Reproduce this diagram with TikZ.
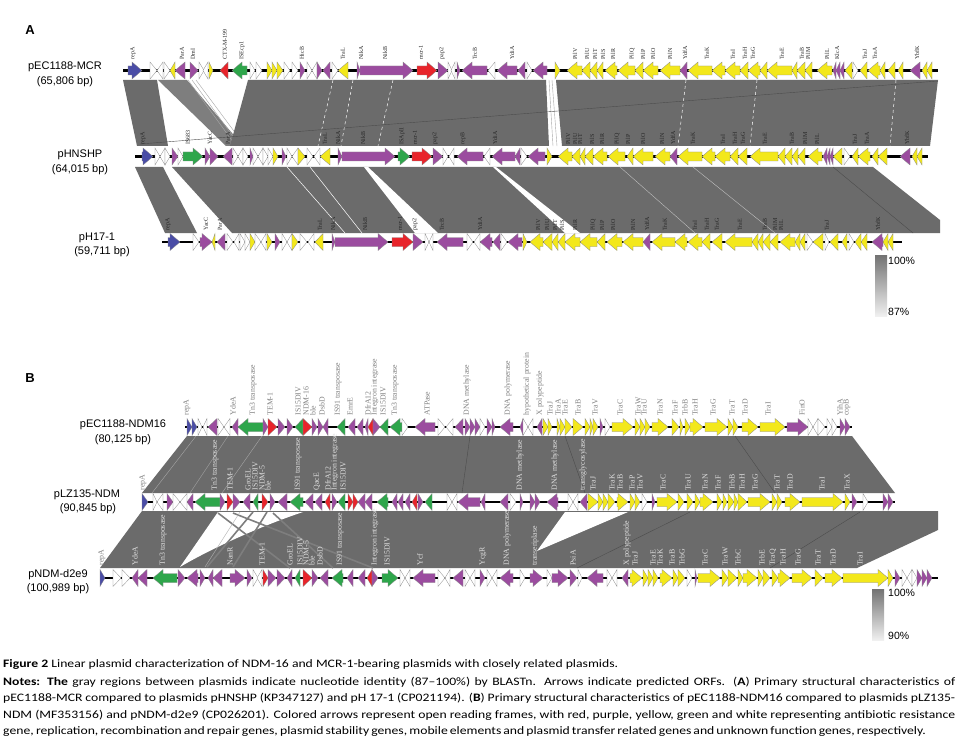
\documentclass[tikz,border=0pt]{standalone}
\usepackage{fontspec}
\setmainfont{Liberation Serif}
\newfontfamily\arialf{Liberation Sans}
\newfontfamily\capf[FakeStretch=1.2]{Carlito}
\definecolor{cP}{HTML}{9B4C9F}
\definecolor{cY}{HTML}{F3E81B}
\definecolor{cR}{HTML}{E8242B}
\definecolor{cG}{HTML}{2EA64B}
\definecolor{cB}{HTML}{4A4DA6}
\definecolor{cW}{HTML}{FFFFFF}
\definecolor{gr}{HTML}{6B6B6B}
\definecolor{grl}{HTML}{7E7E7E}
\newcommand\ga[4]{%
  \pgfmathsetmacro\hx{#2>#1 ? max(#1,#2-10) : min(#1,#2+10)}%
  \filldraw[fill=#4,draw=black!45,line width=0.3pt] (#1,#3-4.5) -- (\hx,#3-4.5) -- (\hx,#3-8.5) -- (#2,#3) -- (\hx,#3+8.5) -- (\hx,#3+4.5) -- (#1,#3+4.5) -- cycle;}
\newcommand\generow[4]{%
  \draw[line width=2.4pt] (#2,#1) -- (#3,#1);
  \foreach \a/\b/\c in {#4}{\ga{\a}{\b}{#1}{\c}}}
\tikzset{
  gband/.style={fill=gr,draw=none},
  wl/.style={draw=white,line width=0.5pt},
  dl/.style={draw=black!70,line width=0.4pt},
  ll/.style={draw=black!35,line width=0.4pt},
  la/.style={rotate=90,anchor=west,inner sep=0.3pt,font=\fontsize{6}{6.5}\selectfont,text=black!85},
  lb/.style={rotate=90,anchor=west,inner sep=0.3pt,font=\fontsize{7.8}{8}\selectfont,text=black!50},
  lw/.style={rotate=90,anchor=west,inner sep=0.3pt,font=\fontsize{7.8}{8}\selectfont,text=black!12},
  ttl/.style={font=\arialf\fontsize{11}{12}\selectfont,inner sep=0pt},
  pan/.style={font=\arialf\bfseries\fontsize{13}{14}\selectfont,inner sep=0pt},
  capl/.style={font=\capf\fontsize{11.4}{13}\selectfont,inner sep=0pt,anchor=base west},
  sc/.style={font=\arialf\fontsize{10.5}{12}\selectfont,inner sep=0pt,anchor=west}
}
\begin{document}
\begin{tikzpicture}[x=1pt,y=-1pt]
\useasboundingbox (0,0) rectangle (964,749);
\fill[white] (0,0) rectangle (964,749);
% ---------------- Panel A ----------------
\node[pan] (pA) at (30,30) {A};
% gray regions A1 -> A2
\fill[gband] (123,80) -- (157,80) -- (168,146) -- (137,146) -- cycle;
\fill[grl] (158,80) -- (187,80) -- (243,146) -- (226,146) -- cycle;
\draw[ll] (188,80) -- (236,146) (192,80) -- (240,146) (196,80) -- (245,146);
\fill[gband] (248,80) -- (546,80) -- (549,146) -- (230,146) -- cycle;
\fill[gband] (556,80) -- (938,80) -- (930,146) -- (562,146) -- cycle;
\draw[ll] (549,80) -- (553,146) (552,80) -- (557,146);
\draw[wl,dashed] (333,80) -- (318,146) (353,80) -- (341,146) (393,80) -- (378,146)
  (686,80) -- (678,146) (757,80) -- (750,146) (896,80) -- (890,146);
\draw[dl] (140,144) -- (938,81);
% gray regions A2 -> A3
\fill[gband] (135,167) -- (163,167) -- (197,233) -- (165,233) -- cycle;
\fill[gband] (172,167) -- (873,167) -- (940,220) -- (940,233) -- (232,233) -- cycle;
\fill[white] (364,167) -- (368,167) -- (438,233) -- (415,233) -- cycle;
\fill[white] (493,167) -- (496,167) -- (580,233) -- (565,233) -- cycle;
\draw[wl] (287,167) -- (345,233) (310,167) -- (362,233);
\draw[ll,draw=black!25] (620,167) -- (695,233) (693,167) -- (775,233);
\draw[dl] (833,167) -- (913,233);
% rows A
\generow{70.5}{123}{938}{128/142/cB, 150/157/cW, 163/157/cW, 164/170/cW, 175/170/cY, 185/175/cP, 190/198/cP, 199/204/cW, 208/203/cW, 209/213/cY, 228/220/cR, 247/232/cG, 250/255/cW, 256/262/cW, 267/272/cY, 272/277/cY, 277/283/cY, 284/290/cW, 292/298/cW, 300/305/cP, 307/312/cW, 317/312/cW, 317/322/cP, 330/323/cP, 332/338/cW, 348/338/cY, 357/360/cP, 360/413/cP, 417/437/cR, 438/448/cP, 448/452/cW, 455/451/cW, 457/460/cP, 487/462/cP, 495/488/cW, 517/497/cP, 525/518/cP, 527/532/cW, 547/533/cP, 555/560/cY, 582/567/cY, 590/582/cY, 597/590/cY, 603/597/cY, 617/605/cY, 635/618/cY, 643/635/cY, 658/643/cY, 680/660/cY, 687/680/cP, 712/688/cY, 725/712/cY, 740/725/cY, 748/740/cY, 760/748/cY, 767/760/cY, 792/767/cY, 797/792/cY, 805/797/cY, 812/805/cY, 832/817/cY, 836/833/cP, 840/836/cP, 844/840/cP, 852/845/cY, 853/858/cW, 867/860/cY, 880/868/cY, 885/880/cY, 895/888/cY, 903/898/cY, 920/910/cP, 927/922/cY, 932/927/cY}
\generow{156.5}{135}{928}{142/153/cB, 155/160/cW, 165/160/cW, 165/170/cW, 172/178/cP, 178/183/cW, 183/203/cG, 205/210/cP, 210/218/cP, 232/223/cP, 233/238/cW, 243/238/cW, 243/248/cW, 250/253/cP, 253/258/cW, 263/258/cW, 263/268/cW, 268/273/cW, 273/278/cY, 282/286/cP, 287/292/cW, 298/292/cW, 298/305/cY, 307/313/cW, 320/314/cW, 330/320/cY, 338/342/cP, 342/395/cP, 398/410/cG, 412/432/cR, 433/443/cP, 443/448/cW, 454/449/cW, 483/457/cP, 490/484/cW, 515/492/cP, 520/515/cP, 521/527/cW, 545/528/cP, 547/552/cY, 572/558/cY, 580/572/cY, 585/580/cY, 593/585/cY, 607/593/cY, 625/608/cY, 633/627/cY, 653/633/cY, 670/655/cY, 677/670/cP, 702/678/cY, 715/702/cY, 730/715/cY, 738/730/cY, 747/738/cY, 778/750/cY, 785/778/cY, 792/785/cY, 798/792/cY, 805/798/cY, 822/808/cY, 827/823/cP, 830/827/cP, 833/830/cP, 842/833/cY, 844/850/cW, 858/852/cY, 870/858/cY, 878/872/cY, 887/878/cY, 910/900/cP, 917/912/cY, 922/917/cY}
\generow{242}{162}{902}{168/180/cB, 193/199/cW, 200/212/cP, 215/212/cY, 225/217/cP, 227/233/cW, 239/234/cW, 240/245/cW, 245/250/cW, 250/255/cY, 255/261/cW, 266/261/cW, 267/272/cY, 275/280/cP, 282/287/cW, 292/287/cW, 292/298/cY, 300/307/cW, 314/308/cW, 323/315/cY, 332/335/cP, 335/388/cP, 392/413/cR, 413/423/cP, 425/429/cW, 433/429/cW, 463/437/cP, 467/473/cW, 480/474/cW, 492/480/cP, 500/493/cP, 501/507/cW, 522/508/cP, 523/527/cY, 543/530/cY, 552/543/cY, 558/552/cY, 565/558/cY, 580/565/cY, 597/580/cY, 605/597/cY, 622/607/cY, 643/623/cY, 650/643/cP, 675/652/cY, 687/675/cY, 702/688/cY, 710/702/cY, 722/712/cY, 752/725/cY, 758/752/cY, 763/758/cY, 770/763/cY, 778/770/cY, 795/780/cY, 800/795/cY, 805/800/cY, 807/813/cW, 823/813/cY, 825/829/cW, 838/830/cY, 847/842/cY, 849/854/cW, 861/855/cY, 867/861/cY, 883/872/cP, 888/883/cY, 893/888/cY}
% labels A
\foreach \x/\t in {133/repA, 182/ParA, 193/DmI, 225/CTX-M-199, 242/ISEcp1, 302/HicB, 343/TraL, 361/NikA, 385/NikB, 421/mcr-1, 442/pap2, 475/TrcB, 512/YdiA, 575/PilV, 587/PilU, 595/PilT, 603/PilS, 613/PilR, 632/PilQ, 643/PilP, 653/PilO, 670/PilN, 685/YdfA, 707/TraK, 733/TraI, 745/TraH, 753/TraG, 782/TraE, 802/TraB, 808/PilM, 827/PilL, 837/KlcA, 865/TraJ, 875/TraA, 917/YbfK}
  {\node[la] (A1l\x) at (\x,60) {\t};}
\foreach \x/\t in {143/repA, 188/IS683, 210/YacC, 228/ParA, 325/TraL, 338/NikA, 363/NikB, 402/ISApl1, 415/mcr-1, 435/pap2, 463/repB, 495/YdiA, 568/PilV, 575/PilU, 580/PilT, 592/PilS, 602/PilR, 617/PilQ, 628/PilP, 643/PilO, 662/PilN, 673/YdfA, 693/TraK, 723/TraI, 735/TraH, 743/TraG, 765/TraE, 792/TraB, 805/PilM, 817/PilL, 855/TraJ, 867/TraA, 907/YbfK}
  {\node[la] (A2l\x) at (\x,145) {\t};}
\foreach \x/\t in {168/repA, 206/YacC, 220/ParA, 320/TraL, 333/NikA, 365/NikB, 400/mcr-1, 415/pap2, 442/TrcB, 480/YdiA, 538/PilV, 547/PilU, 555/PilT, 562/PilS, 575/PilR, 593/PilQ, 602/PilP, 613/PilO, 633/PilN, 647/YdfA, 665/TraK, 695/TraI, 707/TraH, 717/TraG, 740/TraE, 765/TraB, 775/PilM, 781/PilL, 827/TraJ, 878/YbfK}
  {\node[la] (A3l\x) at (\x,231) {\t};}
% titles A
\node[ttl] (tA1) at (65,67) {pEC1188-MCR};
\node[ttl] (tA1b) at (65,82) {(65,806 bp)};
\node[ttl] (tA2) at (80,155) {pHNSHP};
\node[ttl] (tA2b) at (80,170) {(64,015 bp)};
\node[ttl] (tA3) at (97,238) {pH17-1};
\node[ttl] (tA3b) at (102,252) {(59,711 bp)};
% scale A
\shade[top color=black!55,bottom color=black!6] (875,255) rectangle (887,316);
\node[sc] (sA1) at (888,261) {100\%};
\node[sc] (sA2) at (888,312) {87\%};
% ---------------- Panel B ----------------
\node[pan] (pB) at (30,378) {B};
% gray B1 -> B2
\fill[gband] (187,436) -- (852,436) -- (895,493) -- (142,493) -- cycle;
\draw[ll] (196,436) -- (152,493) (228,436) -- (190,493) (262,436) -- (222,493);
\draw[dl] (565,436) -- (585,493) (735,436) -- (775,493) (470,436) -- (462,493);
% gray B2 -> B3
\fill[gband] (142,511) -- (938,511) -- (938,530) -- (857,568) -- (100,568) -- cycle;
\fill[white] (218,512) -- (303,512) .. controls (255,528) and (205,552) .. (180,567) -- cycle;
\fill[white] (565,512) -- (628,512) -- (537,551) -- cycle;
\draw[draw=grl,line width=1.6pt] (218,513) -- (290,568) (233,513) -- (373,568) (253,512) -- (207,567) (267,512) -- (233,567) (273,513) -- (333,568);
\draw[ll,draw=black!30] (240,512) -- (205,567);
\draw[dl] (690,512) -- (577,568) (860,512) -- (770,568);
% rows B
\generow{427}{185}{852}{187/192/cB, 192/197/cB, 198/202/cW, 207/203/cW, 217/208/cP, 218/224/cW, 230/224/cW, 238/232/cP, 263/238/cG, 263/268/cP, 268/277/cR, 278/285/cP, 287/293/cP, 303/295/cG, 303/312/cR, 312/317/cP, 318/323/cP, 328/323/cP, 345/337/cG, 355/348/cP, 363/357/cP, 368/365/cP, 373/368/cR, 373/380/cP, 388/380/cG, 402/390/cG, 402/408/cW, 435/415/cP, 438/445/cW, 453/446/cW, 463/455/cP, 465/470/cP, 470/475/cP, 475/480/cP, 480/485/cW, 487/492/cP, 492/495/cP, 513/500/cP, 523/520/cP, 523/528/cW, 533/528/cW, 542/537/cP, 543/548/cY, 548/552/cY, 557/560/cY, 560/565/cY, 565/572/cY, 573/583/cY, 585/590/cY, 590/593/cY, 593/598/cY, 600/603/cP, 605/610/cW, 612/633/cY, 635/640/cY, 640/645/cY, 645/650/cY, 652/668/cY, 672/679/cY, 680/683/cY, 685/690/cY, 690/703/cY, 705/727/cY, 728/733/cY, 733/738/cY, 742/758/cY, 760/785/cY, 787/808/cP, 808/813/cW, 818/813/cW, 818/825/cW, 827/832/cW, 832/837/cW, 840/845/cP, 845/850/cP}
\generow{502}{142}{895}{142/148/cB, 153/157/cW, 163/157/cW, 167/173/cP, 173/180/cW, 187/180/cW, 193/187/cP, 220/195/cG, 220/225/cP, 227/233/cR, 233/240/cP, 250/243/cP, 258/253/cG, 262/268/cR, 270/275/cP, 287/278/cP, 303/290/cG, 313/305/cP, 322/315/cP, 330/325/cR, 332/337/cP, 345/338/cG, 348/353/cR, 353/358/cR, 365/358/cP, 372/365/cP, 388/377/cG, 397/392/cP, 403/398/cP, 410/405/cP, 417/412/cR, 418/423/cP, 432/425/cG, 447/452/cW, 457/452/cW, 480/458/cP, 485/481/cP, 508/500/cP, 510/516/cW, 520/523/cP, 530/535/cP, 535/540/cP, 558/547/cP, 568/573/cW, 578/573/cW, 587/580/cP, 588/598/cY, 598/603/cY, 603/608/cY, 608/615/cY, 617/628/cY, 630/635/cY, 635/640/cY, 642/647/cW, 652/655/cP, 657/677/cY, 678/684/cY, 687/693/cY, 695/700/cY, 700/713/cY, 717/722/cY, 723/727/cY, 728/734/cY, 734/738/cY, 738/747/cY, 748/770/cY, 772/777/cY, 777/782/cY, 785/800/cY, 802/843/cY, 845/850/cY, 852/857/cP, 863/868/cW, 883/888/cP, 888/893/cP}
\generow{578}{100}{938}{100/105/cB, 113/121/cW, 122/130/cW, 138/132/cP, 147/138/cP, 177/153/cG, 178/185/cP, 198/187/cP, 200/205/cP, 213/208/cP, 222/213/cP, 230/245/cP, 247/252/cP, 253/258/cW, 262/257/cW, 263/268/cR, 268/276/cP, 277/285/cP, 292/287/cP, 300/295/cG, 303/312/cR, 312/318/cP, 328/320/cP, 343/332/cG, 353/347/cP, 365/358/cP, 372/367/cR, 372/378/cP, 382/398/cG, 400/405/cW, 410/405/cW, 435/413/cP, 438/445/cW, 450/445/cW, 463/453/cP, 465/470/cW, 475/470/cW, 480/485/cP, 487/492/cW, 497/492/cW, 513/500/cP, 520/525/cW, 530/543/cP, 547/552/cW, 552/568/cP, 570/577/cP, 578/582/cW, 603/587/cP, 607/612/cW, 617/612/cW, 628/622/cP, 630/642/cY, 643/648/cY, 648/653/cY, 653/658/cY, 660/672/cY, 673/678/cY, 678/685/cY, 687/692/cW, 695/697/cP, 698/720/cY, 722/728/cY, 728/737/cY, 738/743/cY, 743/757/cY, 758/763/cY, 763/770/cY, 772/778/cY, 778/790/cY, 792/812/cY, 815/823/cY, 825/842/cY, 843/888/cY, 888/893/cY, 895/900/cP, 902/907/cW, 912/907/cW, 912/917/cW, 917/922/cP, 922/927/cP, 927/932/cP}
% labels B
\foreach \x/\t in {187/repA, 233/YdeA, 253/Tn3 transposase, 270/TEM-1, 298/IS15DIV, 306/NDM-16, 313/ble, 322/DsbD, 338/IS91 transposase, 350/EmrE, 368/DfrA12, 375/Integron integrase, 383/IS15DIV, 395/Tn3 transposase, 427/ATPase, 467/DNA methylase, 508/DNA polymerase, 527/hypothetical protein, 540/X polypeptide, 550/TraJ, 558/TraA, 565/TraE, 578/TraB, 595/TraV, 620/TraC, 638/TraW, 644/TraU, 660/TraN, 675/TraF, 685/TrbB, 695/TraH, 713/TraG, 732/TraT, 745/TraD, 768/TraI, 802/FinO, 840/YihA, 847/copB}
  {\node[lb] (B1l\x) at (\x,416) {\t};}
\node[lb] (B2l143) at (143,491) {repA};
\foreach \x/\t in {215/Tn3 transposase, 230/TEM-1, 248/GroEL, 255/IS15DIV, 262/NDM-5, 268/ble, 298/IS91 transposase, 317/QacE, 328/DfrA12, 335/Integron integrase, 343/IS15DIV, 520/DNA methylase, 555/DNA methylase, 583/transglycosylase, 593/TraJ, 612/TraK, 620/TraB, 632/TraP, 640/TraV, 663/TraC, 688/TraU, 705/TraN, 718/TraF, 732/TrbB, 742/TraH, 755/TraG, 777/TraT, 790/TraD, 822/TraI, 847/TraX}
  {\node[lw] (B2l\x) at (\x,491) {\t};}
\node[lb] (B3l102) at (102,566) {repA};
\foreach \x/\t in {135/YdeA, 163/Tn3 transposase, 230/NanR, 262/TEM-1, 290/GroEL, 300/IS15DIV, 306/NDM-5, 312/ble, 320/DsbD, 340/IS91 transposase, 375/Integron integrase, 387/IS15DIV, 420/Ycf, 483/YcgR, 507/DNA polymerase, 535/transeriplase, 573/PsiA, 627/X polypeptide, 635/TraJ, 653/TraE, 660/TraK, 672/TraB, 682/TrbG, 705/TraC, 725/TraW, 738/TrbC, 762/TrbE, 773/TraQ, 783/TraH, 798/TraG, 818/TraT, 833/TraD, 860/TraI}
  {\node[lw] (B3l\x) at (\x,566) {\t};}
% titles B
\node[ttl] (tB1) at (123,425) {pEC1188-NDM16};
\node[ttl] (tB1b) at (123,440) {(80,125 bp)};
\node[ttl] (tB2) at (87,495) {pLZ135-NDM};
\node[ttl] (tB2b) at (88,509) {(90,845 bp)};
\node[ttl] (tB3) at (58,575) {pNDM-d2e9};
\node[ttl] (tB3b) at (58,589) {(100,989 bp)};
% scale B
\shade[top color=black!55,bottom color=black!6] (872,589) rectangle (884,640);
\node[sc] (sB1) at (888,593) {100\%};
\node[sc] (sB2) at (888,636) {90\%};
% ---------------- Caption ----------------
\node[capl] (c1) at (3,667) {\textbf{Figure 2} Linear plasmid characterization of NDM-16 and MCR-1-bearing plasmids with closely related plasmids.};
\node[capl] (c2) at (3,685) {\makebox[952pt][s]{\textbf{Notes: The} gray regions between plasmids indicate nucleotide identity (87–100\%) by BLASTn. Arrows indicate predicted ORFs. (\textbf{A}) Primary structural characteristics of}};
\node[capl] (c3) at (3,701.5) {\makebox[952pt][s]{pEC1188-MCR compared to plasmids pHNSHP (KP347127) and pH 17-1 (CP021194). (\textbf{B}) Primary structural characteristics of pEC1188-NDM16 compared to plasmids pLZ135-}};
\node[capl] (c4) at (3,718) {\makebox[952pt][s]{NDM (MF353156) and pNDM-d2e9 (CP026201). Colored arrows represent open reading frames, with red, purple, yellow, green and white representing antibiotic resistance}};
\node[capl] (c5) at (3,734.5) {\makebox[915pt][s]{gene, replication, recombination and repair genes, plasmid stability genes, mobile elements and plasmid transfer related genes and unknown function genes, respectively.}};
\end{tikzpicture}
\end{document}
